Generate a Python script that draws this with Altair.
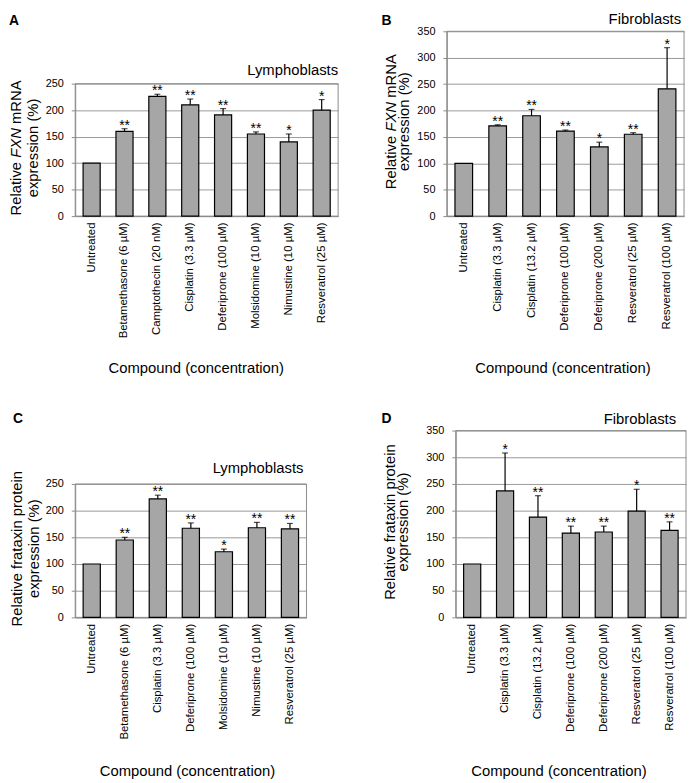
import altair as alt
import pandas as pd

# ---------------- data ----------------
A_labels = ["Untreated", "Betamethasone (6 µM)", "Camptothecin (20 nM)", "Cisplatin (3.3 µM)",
            "Deferiprone (100 µM)", "Molsidomine (10 µM)", "Nimustine (10 µM)", "Resveratrol (25 µM)"]
A_values = [100, 160, 226, 210, 191, 155, 140, 200]
A_err = [0, 5, 4, 11, 12, 4, 15, 20]
A_sig = ["", "**", "**", "**", "**", "**", "*", "*"]

B_labels = ["Untreated", "Cisplatin (3.3 µM)", "Cisplatin (13.2 µM)", "Deferiprone (100 µM)",
            "Deferiprone (200 µM)", "Resveratrol (25 µM)", "Resveratrol (100 µM)"]
B_values = [100, 171, 190, 161, 131, 155, 241]
B_err = [0, 2, 12, 2, 9, 3, 78]
B_sig = ["", "**", "**", "**", "*", "**", "*"]

C_labels = ["Untreated", "Betamethasone (6 µM)", "Cisplatin (3.3 µM)", "Deferiprone (100 µM)",
            "Molsidomine (10 µM)", "Nimustine (10 µM)", "Resveratrol (25 µM)"]
C_values = [100, 145, 222, 167, 123, 168, 166]
C_err = [0, 5, 7, 10, 5, 10, 10]
C_sig = ["", "**", "**", "**", "*", "**", "**"]

D_labels = ["Untreated", "Cisplatin (3.3 µM)", "Cisplatin (13.2 µM)", "Deferiprone (100 µM)",
            "Deferiprone (200 µM)", "Resveratrol (25 µM)", "Resveratrol (100 µM)"]
D_values = [100, 237, 188, 158, 160, 199, 163]
D_err = [0, 71, 40, 13, 11, 41, 16]
D_sig = ["", "*", "**", "**", "**", "*", "**"]

X_TITLE = "Compound (concentration)"
FONT = "Liberation Sans"
GRAY = "#8c8c8c"

# Arial / Liberation Sans advance widths (per 1000 em) for title layout
CW = {'R': 722, 'e': 556, 'l': 222, 'a': 556, 't': 278, 'i': 222, 'v': 500, ' ': 278,
      'F': 611, 'X': 667, 'N': 722, 'm': 833, 'A': 667, 'f': 278, 'r': 333, 'x': 500,
      'n': 556, 'p': 556, 'o': 556}


def text_width(s, size):
    return sum(CW.get(c, 556) for c in s) * size / 1000.0


def label_chart(text, x, y, **kw):
    return alt.Chart(pd.DataFrame({"t": [text]})).mark_text(font=FONT, **kw).encode(
        text="t:N", x=alt.value(x), y=alt.value(y))


def panel(labels, values, errs, sigs, letter, letter_xy, width, view_h, plot_h, ymax,
          title1, title1_x, title2_x, subtitle, sub_dx, sub_dy, xt_x, xt_y):
    pt = view_h - plot_h  # top of the plotting frame inside the view
    df = pd.DataFrame({
        "compound": labels,
        "value": values,
        "err": errs,
        "upper": [v + e for v, e in zip(values, errs)],
        "sig": sigs,
    })
    xenc = alt.X("compound:N", sort=labels,
                 scale=alt.Scale(paddingInner=0.48, paddingOuter=0.24),
                 axis=alt.Axis(labelAngle=-90, ticks=False, labelPadding=6, labelFontSize=11.5,
                               labelColor="#000", title=X_TITLE, titleFontSize=15,
                               titleFontWeight="normal", titleColor="#000",
                               titleX=xt_x, titleY=xt_y, titleBaseline="top", titleAlign="center",
                               domainColor=GRAY, grid=False, labelLimit=300))
    yscale = alt.Scale(domain=[0, ymax], range=[view_h, pt], nice=False, zero=True)
    yaxis = alt.Axis(values=list(range(0, ymax + 1, 50)), title=None, grid=True,
                     gridColor="#999999", gridWidth=1, tickSize=4, tickColor=GRAY,
                     domainColor=GRAY, labelPadding=8, labelFontSize=11, labelColor="#000",
                     labelOverlap=False)
    base = alt.Chart(df).encode(x=xenc)
    frame = alt.Chart(pd.DataFrame({"t": [0]})).mark_rect(
        fillOpacity=0, stroke=GRAY, strokeWidth=1).encode(
        x=alt.value(0), x2=alt.value(width), y=alt.value(pt), y2=alt.value(view_h))
    bars = base.mark_bar(color="#a6a6a6", stroke="#000", strokeWidth=1.2).encode(
        y=alt.Y("value:Q", scale=yscale, axis=yaxis))
    rules = base.transform_filter("datum.err > 0").mark_rule(color="#000", strokeWidth=1.2).encode(
        y=alt.Y("value:Q", scale=yscale, axis=yaxis), y2="upper:Q")
    caps = base.transform_filter("datum.err > 0").mark_tick(color="#000", size=6, thickness=1.2).encode(
        y=alt.Y("upper:Q", scale=yscale, axis=yaxis))
    stars = base.mark_text(font=FONT, fontSize=14, baseline="alphabetic", dy=1, color="#000").encode(
        y=alt.Y("upper:Q", scale=yscale, axis=yaxis), text="sig:N")

    layers = [frame, bars, rules, caps, stars]
    layers.append(label_chart(letter, letter_xy[0], letter_xy[1], fontSize=14, fontWeight="bold",
                              align="left", baseline="top", color="#000"))
    layers.append(label_chart(subtitle, width - sub_dx, pt + sub_dy, fontSize=15, align="right",
                              baseline="alphabetic", color="#000"))
    # y-axis title, line 1 (pieces, some italic), reading bottom to top
    yc = pt + plot_h / 2 - 2
    total = sum(text_width(t, 15) for t, _ in title1) + text_width(" ", 15) * (len(title1) - 1)
    ypos = yc + total / 2
    for t, style in title1:
        layers.append(label_chart(t, title1_x, ypos, fontSize=15, fontStyle=style, angle=270,
                                  align="left", baseline="alphabetic", color="#000"))
        ypos -= text_width(t, 15) + text_width(" ", 15)
    # line 2
    layers.append(label_chart("expression (%)", title2_x, yc, fontSize=15, angle=270,
                              align="center", baseline="alphabetic", color="#000"))
    return alt.layer(*layers).properties(width=width, height=view_h)


pA = panel(A_labels, A_values, A_err, A_sig, "A", (-67, -17), 266, 187, 134, 250,
           [("Relative", "normal"), ("FXN", "italic"), ("mRNA", "normal")], -55, -38,
           "Lymphoblasts", 0, -9, 122, 146)
pB = panel(B_labels, B_values, B_err, B_sig, "B", (-66, -17), 240, 187, 187, 350,
           [("Relative", "normal"), ("FXN", "italic"), ("mRNA", "normal")], -51, -38,
           "Fibroblasts", 3, -7, 117, 146)
pC = panel(C_labels, C_values, C_err, C_sig, "C", (-63, -19), 234, 189, 135, 250,
           [("Relative frataxin protein", "normal")], -54, -37,
           "Lymphoblasts", 3, -11, 113, 148)
pD = panel(D_labels, D_values, D_err, D_sig, "D", (-75, -19), 233, 189, 189, 350,
           [("Relative frataxin protein", "normal")], -61, -48,
           "Fibroblasts", 10, -7, 104, 148)

row1 = alt.hconcat(pA, pB, spacing=43)
row2 = alt.hconcat(pC, pD, spacing=75)
chart = alt.vconcat(row1, row2, spacing=37).properties(padding=0).configure(
    font=FONT
).configure_view(strokeOpacity=0)

chart.save("out.html", embed_options={"renderer": "svg", "actions": False})
